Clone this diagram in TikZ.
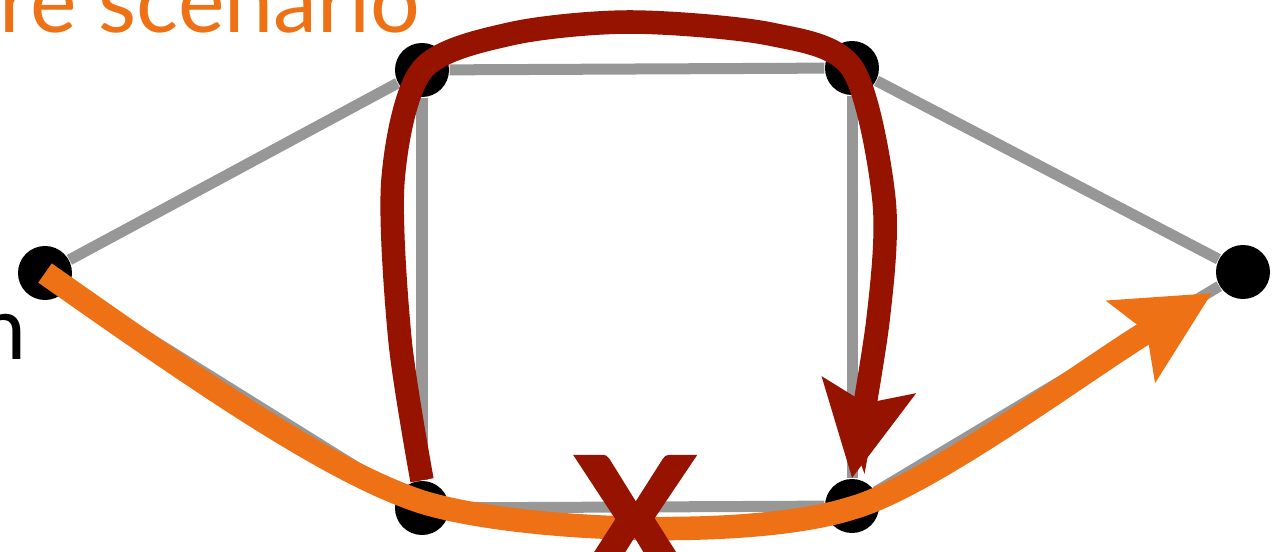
\documentclass[tikz,border=0pt]{standalone}
\usepackage{fontspec}
\setmainfont{Lato}
\newfontfamily\crossfont[FakeBold=3]{Lato}
\usetikzlibrary{arrows.meta}
\definecolor{routeorange}{HTML}{EE7116}
\definecolor{failred}{HTML}{961300}
\definecolor{linkgray}{HTML}{979797}
\tikzset{
vertex/.style={
  circle,
  fill=black,
  inner sep=0pt,
  minimum size=0.54cm
  },
link/.style={
  draw=linkgray,
  line width=0.11cm
  },
route/.style={
  line width=0.235cm,
  -{Stealth[length=0.93cm,width=0.92cm,inset=0.17cm]}
  },
bigtext/.style={
  font=\fontsize{25}{29}\selectfont,
  inner sep=0pt
  }
}

\begin{document}
\begin{tikzpicture}[x=0.01cm,y=-0.01cm]
\useasboundingbox (0,0) rectangle (1272,552);

\node[vertex] (a) at (45,273) {};
\node[vertex] (b) at (422,70) {};
\node[vertex] (c) at (852,68) {};
\node[vertex] (d) at (1243,272) {};
\node[vertex] (e) at (422,508) {};
\node[vertex] (f) at (852,506) {};

\draw[link] (a) -- (b) -- (c) -- (d);
\draw[link] (a) -- (e) -- (f) -- (d);
\draw[link] (b) -- (e);
\draw[link] (c) -- (f);

\node[bigtext,text=routeorange,anchor=base east] (title) at (421,33) {re scenario};
\node[bigtext,anchor=base east] (src) at (27,360) {n};

\coordinate (dtip) at (1212,293);

% detour around the failed link
\draw[route,failred] plot[smooth] coordinates
  {(e.north) (400,340) (393,180) (b.center) (510,34) (630,22) (770,34)
   (c.center) (884,200) (878,320) (f.north)};

% original path
\draw[route,routeorange] (a.center)
  .. controls (200,382) and (330,472) .. (422,502)
  .. controls (520,532) and (752,540) .. (852,508)
  .. controls (930,486) and (1090,366) .. (dtip);

\node[text=failred,inner sep=0pt,font=\fontsize{50}{50}\crossfont\bfseries] (cross) at (635,521) {X};
\end{tikzpicture}
\end{document}
